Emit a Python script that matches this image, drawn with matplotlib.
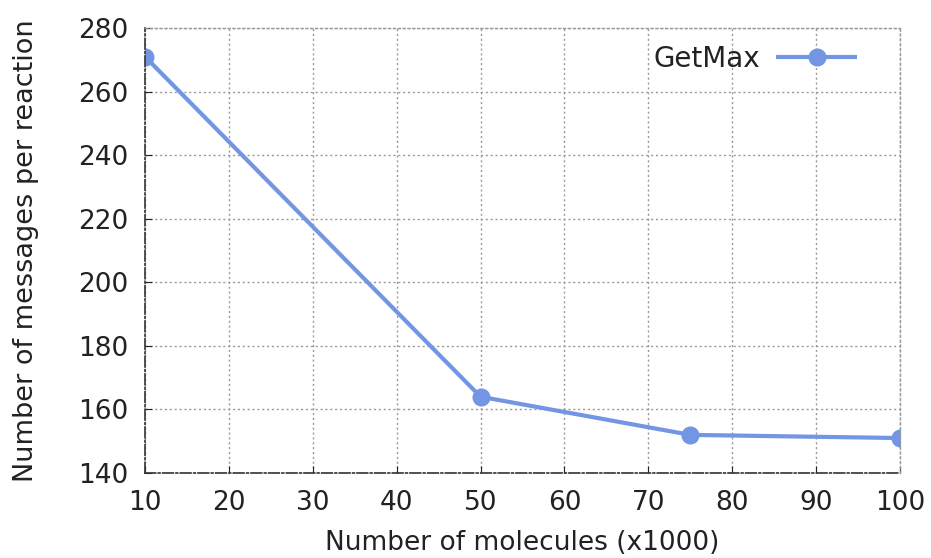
import matplotlib
matplotlib.use("Agg")
import matplotlib.pyplot as plt

# data
molecules = [10, 50, 75, 100]
messages = [271, 164, 152, 151]
xticks = [10, 20, 30, 40, 50, 60, 70, 80, 90, 100]
yticks = [140, 160, 180, 200, 220, 240, 260, 280]

plt.rcParams["font.family"] = ["DejaVu Sans"]

fig = plt.figure(figsize=(9.31, 5.58), dpi=100)
ax = fig.add_axes([0.1557, 0.1523, 0.9667 - 0.1557, 0.9498 - 0.1523])

ax.plot(molecules, messages, color="#7396e4", lw=3, marker="o", ms=12,
        label="GetMax", solid_capstyle="butt")

ax.set_xlim(10, 100)
ax.set_ylim(140, 280)
ax.set_xticks(xticks)
ax.set_yticks(yticks)
ax.tick_params(direction="in", length=5, labelsize=19, pad=12,
               color="#222222", labelcolor="#222222")
ax.grid(True, linestyle=(0, (1.5, 2)), color="#999999", lw=1)

for side in ["top", "right"]:
    ax.spines[side].set_linestyle((0, (1.5, 2)))
    ax.spines[side].set_color("#999999")
    ax.spines[side].set_linewidth(1)
for side in ["left", "bottom"]:
    ax.spines[side].set_linestyle("-.")
    ax.spines[side].set_color("#333333")
    ax.spines[side].set_linewidth(1.2)

ax.set_xlabel("Number of molecules (x1000)", fontsize=19, labelpad=10,
              color="#222222")
ax.set_ylabel("Number of messages per reaction", fontsize=19.5, labelpad=28,
              color="#222222")

ax.legend(loc="upper right", frameon=False, markerfirst=False, fontsize=20,
          handlelength=2.9, handletextpad=0.6, borderaxespad=0.2,
          bbox_to_anchor=(0.965, 1.0), labelcolor="#222222")

fig.savefig("out.png", dpi=100)
